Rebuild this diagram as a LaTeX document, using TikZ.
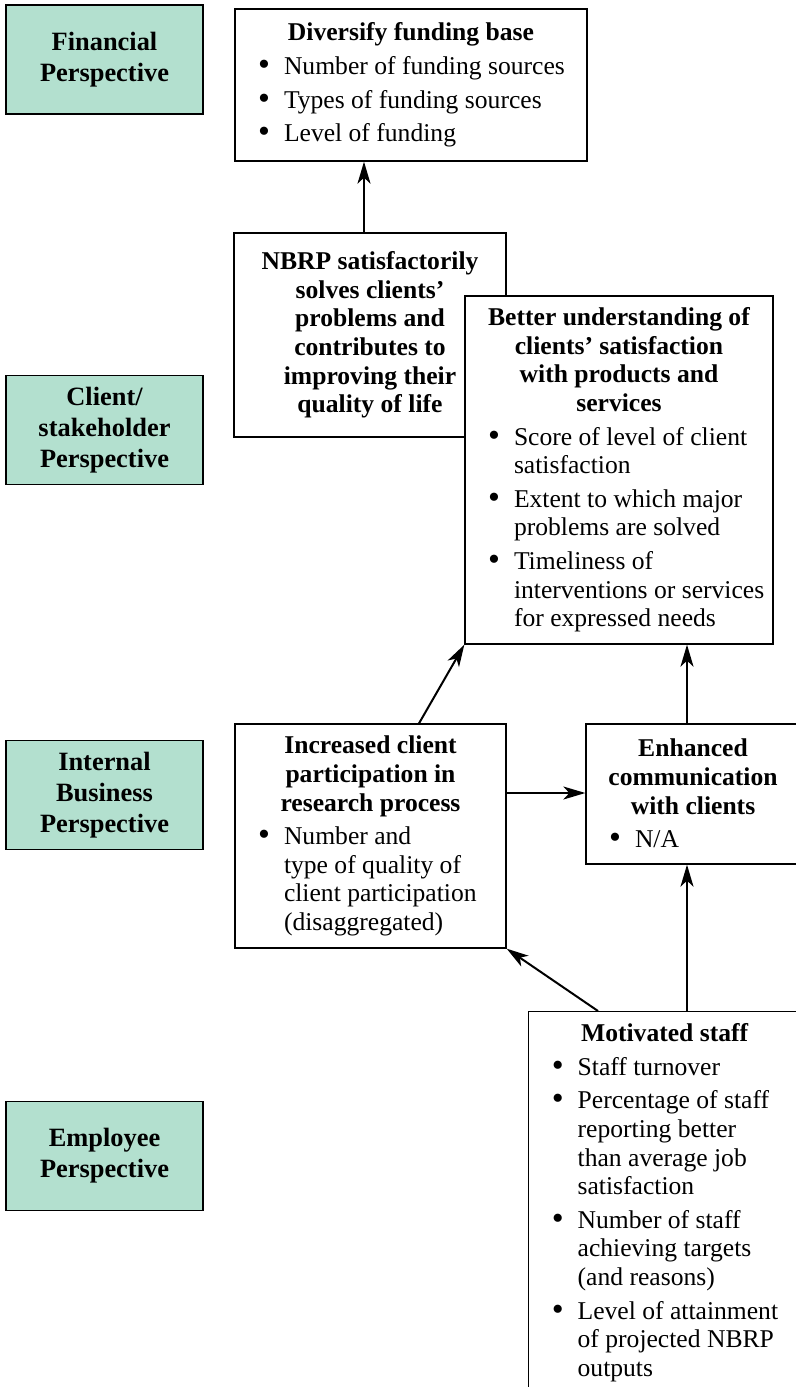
\documentclass[tikz,border=0pt]{standalone}
\usepackage{fontspec}
\setmainfont{Liberation Serif}
\usetikzlibrary{arrows.meta,positioning}
\definecolor{persgreen}{RGB}{179,224,207}

\newcommand{\hd}[1]{{\centering\bfseries #1\par}}
\newcommand{\blt}{\raisebox{-0.5pt}{\fontsize{17}{17}\selectfont\textbullet}}
\newcommand{\itm}[1]{{\raggedright\leftskip=24.5pt\vspace{2.5pt}\noindent\llap{\blt\hspace{7pt}}#1\par}}

\begin{document}
\begin{tikzpicture}[x=0.5pt,y=-0.5pt,>={Stealth[length=11pt,width=6.5pt,inset=3pt]},
                every node/.style={font=\fontsize{12.8}{14.3}\selectfont, inner sep=0pt},
                persp/.style={draw, fill=persgreen, line width=0.65pt, align=center, minimum width=98.5pt, minimum height=54.5pt, font=\fontsize{13.2}{15.5}\selectfont\bfseries},
                box/.style={draw, fill=white, line width=0.65pt},
                link/.style={->, line width=1pt}
                ]
                \useasboundingbox (0,0) rectangle (796,1387);
                \clip (0,0) rectangle (796,1387);
                \node[persp] (fin) at (104.5,59.5) {Financial\\Perspective};
                \node[persp] (cli) at (104.5,430) {Client/\\stakeholder\\Perspective};
                \node[persp] (int) at (104.5,795) {Internal\\Business\\Perspective};
                \node[persp] (emp) at (104.5,1156) {Employee\\Perspective};
                \node[box, minimum width=176pt, minimum height=76pt] (fund) at (411,85) {\parbox{176pt}{\hd{Diversify funding base}\itm{Number of funding sources}\itm{Types of funding sources}\itm{Level of funding}}};
                \node[box, minimum width=136pt, minimum height=102pt] (nbrp) at (370,335) {\parbox{136pt}{\hd{NBRP satisfactorily\\solves clients’\\problems and\\contributes to\\improving their\\quality of life}}};
                \node[box, minimum width=154pt, minimum height=174pt] (better) at (619,470) {\parbox{154pt}{\hd{Better understanding of\\clients’ satisfaction\\with products and\\services}\itm{Score of level of client\\satisfaction}\itm{Extent to which major\\problems are solved}\itm{Timeliness of\\interventions or services\\for expressed needs}}};
                \node[box, minimum width=135.5pt, minimum height=112pt] (incr) at (370.5,836) {\parbox{135.5pt}{\hd{Increased client\\participation in\\research process}\itm{Number and\\type of quality of\\client participation\\(disaggregated)}}};
                \node[box, minimum width=107pt, minimum height=70pt] (comm) at (693,794) {\parbox{107pt}{\hd{Enhanced\\communication\\with clients}\itm{N/A}}};
                \node[box, anchor=north west, inner ysep=6pt] (staff) at (528,1011) {\parbox[c][215pt][t]{136pt}{\hd{Motivated staff}\itm{Staff turnover}\itm{Percentage of staff\\reporting better\\than average job\\satisfaction}\itm{Number of staff\\achieving targets\\(and reasons)}\itm{Level of attainment\\of projected NBRP\\outputs}}};
                \draw[link] ([xshift=-3pt]nbrp.north) -- ([xshift=-3pt]nbrp.north |- fund.south);
                \draw[link] ([xshift=24.25pt]incr.north) -- (better.south west);
                \draw[link] ([yshift=21.5pt]incr.east) -- ([yshift=21.5pt]incr.east -| comm.west);
                \draw[link] ([xshift=-3pt]comm.north) -- ([xshift=-3pt]comm.north |- better.south);
                \draw[link] ([xshift=79.5pt]staff.north west) -- ([xshift=79.5pt]staff.north west |- comm.south);
                \draw[link] ([xshift=35pt]staff.north west) -- (incr.south east);
        \end{tikzpicture}
\end{document}
